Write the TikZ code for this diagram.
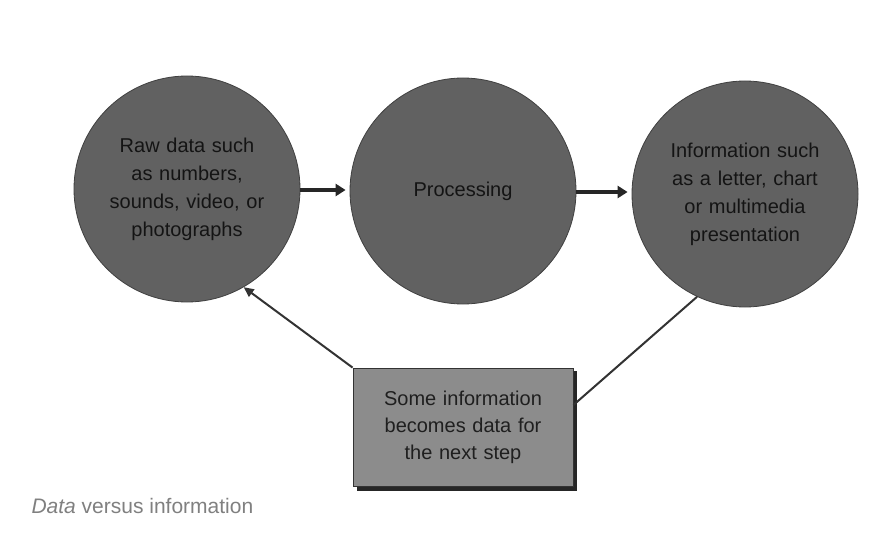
\documentclass[tikz,border=0pt]{standalone}
\usepackage{fontspec}
\setmainfont{Liberation Sans}
\usetikzlibrary{arrows.meta}
\begin{document}
\begin{tikzpicture}[x=1pt,y=-1pt,
  circ/.style={circle,minimum size=226pt,inner sep=0pt,fill=black!62,draw=black!75,line width=0.8pt,
    text=black!92,align=center,font=\fontsize{20}{28}\selectfont,text width=190pt},
  boxnode/.style={rectangle,minimum width=220pt,minimum height=118pt,fill=black!45,draw=black!80,line width=0.8pt,
    text=black!88,align=center,font=\fontsize{20}{27}\selectfont,text width=210pt},
  bigarrow/.style={line width=3.5pt,-{Triangle[length=10pt,width=12pt]},black!85},
  thinline/.style={line width=2pt,black!80},
  caption/.style={anchor=west,text=black!50,font=\fontsize{21}{24}\selectfont}]
\useasboundingbox (0,0) rectangle (877,540);
\fill[white] (0,0) rectangle (877,540);
\node[circ] (raw) at (187,189) {Raw data such\\as numbers,\\sounds, video, or\\photographs};
\node[circ] (proc) at (463,191) {Processing};
\node[circ] (info) at (745,194) {Information such\\as a letter, chart\\or multimedia\\presentation};
\fill[black!85] (357,371) rectangle (577,491);
\node[boxnode] (box) at (463,427) {Some information\\becomes data for\\the next step};
\draw[bigarrow] (raw.east |- 0,190) -- ([xshift=-4pt]proc.west |- 0,190);
\draw[bigarrow] (proc.east |- 0,192) -- ([xshift=-4pt]info.west |- 0,192);
\draw[thinline,-{Triangle[length=10pt,width=9pt]}] (box.north west) -- (raw.-60);
\draw[thinline] (box.east |- 0,405) -- (info.-115);
\node[caption] (cap) at (28,506) {\textit{Data} versus information};
\end{tikzpicture}
\end{document}
